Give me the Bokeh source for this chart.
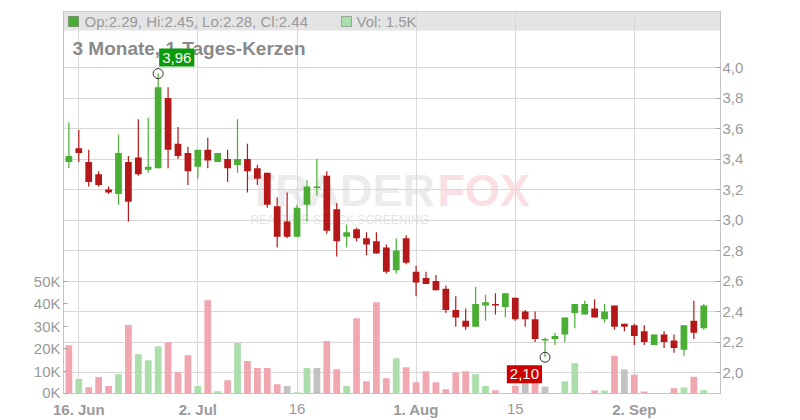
import numpy as np
import pandas as pd
from bokeh.plotting import figure
from bokeh.layouts import column
from bokeh.models import (Range1d, LinearAxis, FixedTicker, Label, BoxAnnotation,
                          ColumnDataSource, Grid)
from bokeh.core.properties import value
from bokeh.embed import file_html
from bokeh.resources import INLINE

# ---------------- data ----------------
dates = pd.bdate_range("2025-06-13", "2025-09-11")

opens = [3.38, 3.47, 3.38, 3.30, 3.20, 3.17, 3.38, 3.41, 3.33, 3.34,
         3.80, 3.50, 3.44, 3.35, 3.46, 3.38, 3.40, 3.36, 3.40, 3.34,
         3.31, 3.09, 2.99, 2.89, 3.10, 3.21, 3.29, 3.07, 2.89, 2.94,
         2.88, 2.86, 2.82, 2.67, 2.88, 2.66, 2.62, 2.60, 2.55, 2.41,
         2.34, 2.30, 2.44, 2.45, 2.43, 2.49, 2.40, 2.35, 2.21, 2.22,
         2.25, 2.39, 2.38, 2.42, 2.35, 2.44, 2.32, 2.31, 2.27, 2.18,
         2.25, 2.21, 2.15, 2.34, 2.29]
highs = [3.64, 3.59, 3.46, 3.32, 3.22, 3.56, 3.42, 3.66, 3.67, 3.96,
         3.87, 3.61, 3.48, 3.46, 3.54, 3.44, 3.46, 3.66, 3.50, 3.36,
         3.31, 3.15, 3.18, 3.10, 3.26, 3.40, 3.32, 3.11, 2.97, 2.95,
         2.92, 2.92, 2.84, 2.88, 2.90, 2.70, 2.66, 2.64, 2.57, 2.50,
         2.42, 2.56, 2.51, 2.52, 2.52, 2.49, 2.41, 2.40, 2.23, 2.26,
         2.36, 2.45, 2.47, 2.48, 2.45, 2.44, 2.32, 2.32, 2.31, 2.25,
         2.27, 2.25, 2.31, 2.47, 2.45]
lows = [3.34, 3.38, 3.22, 3.22, 3.17, 3.10, 2.99, 3.29, 3.31, 3.34,
        3.34, 3.40, 3.23, 3.27, 3.34, 3.38, 3.25, 3.31, 3.18, 3.23,
        3.08, 2.82, 2.88, 2.89, 2.99, 3.16, 2.91, 2.76, 2.82, 2.86,
        2.77, 2.78, 2.65, 2.65, 2.71, 2.50, 2.58, 2.54, 2.39, 2.30,
        2.28, 2.30, 2.34, 2.38, 2.36, 2.34, 2.30, 2.20, 2.10, 2.18,
        2.20, 2.29, 2.38, 2.36, 2.33, 2.28, 2.27, 2.18, 2.18, 2.18,
        2.16, 2.13, 2.11, 2.22, 2.28]
closes = [3.42, 3.44, 3.25, 3.23, 3.18, 3.44, 3.12, 3.30, 3.35, 3.87,
          3.46, 3.42, 3.32, 3.46, 3.39, 3.44, 3.34, 3.40, 3.32, 3.27,
          3.10, 2.89, 2.89, 3.08, 3.22, 3.22, 2.93, 2.86, 2.92, 2.88,
          2.84, 2.78, 2.66, 2.80, 2.72, 2.59, 2.58, 2.54, 2.41, 2.36,
          2.30, 2.45, 2.46, 2.44, 2.52, 2.35, 2.35, 2.22, 2.22, 2.24,
          2.36, 2.45, 2.45, 2.36, 2.40, 2.30, 2.30, 2.24, 2.20, 2.25,
          2.20, 2.16, 2.31, 2.26, 2.44]
volumes_k = [21.5, 6.4, 2.8, 7.3, 3.3, 8.6, 30.4, 17.5, 14.8, 21.0,
             22.8, 9.5, 17.0, 3.3, 41.5, 1.0, 5.9, 22.4, 14.4, 11.3,
             11.3, 4.1, 3.3, 0.6, 11.3, 11.3, 23.3, 10.8, 3.3, 33.5,
             5.5, 40.6, 6.8, 15.7, 11.7, 5.0, 9.9, 5.0, 1.9, 9.5,
             9.9, 8.6, 3.3, 1.5, 0.0, 3.5, 5.0, 5.0, 3.1, 0.0,
             5.4, 13.4, 0.0, 1.3, 1.3, 16.8, 10.7, 8.4, 0.9, 0.0,
             0.0, 2.3, 2.7, 7.5, 1.5]
# 1 = higher close than the day before, -1 = lower, 0 = unchanged
vol_dir = [-1, 1, -1, -1, -1, 1, -1, 1, 1, 1,
           -1, -1, -1, 1, -1, 1, -1, 1, -1, -1,
           -1, -1, 0, 1, 1, 0, -1, -1, 1, -1,
           -1, -1, -1, 1, -1, -1, -1, -1, -1, -1,
           -1, 1, 1, -1, 0, -1, 0, -1, 0, 1,
           1, 1, 1, -1, 1, -1, 0, -1, -1, 1,
           -1, -1, 1, -1, 1]

tick_dates = ["2025-06-16", "2025-07-02", "2025-07-16", "2025-08-01", "2025-08-15", "2025-09-02"]
tick_labels = ["16. Jun", "2. Jul", "16", "1. Aug", "15", "2. Sep"]
tick_bold = [True, True, False, True, False, True]

price_ticks = [2.0, 2.2, 2.4, 2.6, 2.8, 3.0, 3.2, 3.4, 3.6, 3.8, 4.0]
price_labels = ["2,0", "2,2", "2,4", "2,6", "2,8", "3,0", "3,2", "3,4", "3,6", "3,8", "4,0"]
vol_ticks = [0, 10000, 20000, 30000, 40000, 50000]
vol_labels = ["0K", "10K", "20K", "30K", "40K", "50K"]

title_text = "3 Monate, 1-Tages-Kerzen"

# ---------------- layout helpers (page pixels -> data) ----------------
X0, DX = 68.38, 9.92          # page x of first candle, px per trading day
Y2, PY = 372.0, 152.5         # page y of price 2.0, px per 1.0 price
VOLPX = 22.5 / 10000.0        # px per share of volume

def xi(px):
    return (px - X0) / DX

def yp(py):
    return 2.0 + (Y2 - py) / PY

FL, FR, FT, FB = 63, 720, 11, 393
W = 792
H1 = 400            # main canvas height
H2 = 20             # date-label strip height

FONT = "Liberation Sans"
GRAY = "#9a9a9a"
EDGE = "#c4c4c4"
UP, DOWN = "#4aae34", "#b51818"
VCOL = {1: "#abdeab", -1: "#f1a7b0", 0: "#c2c2c2"}

x = np.arange(len(dates))
o = np.array(opens); h = np.array(highs); l = np.array(lows); c = np.array(closes)
vol = np.array(volumes_k) * 1000.0
up = c >= o
ccol = [UP if u else DOWN for u in up]
vcol = [VCOL[d] for d in vol_dir]
date_index = {d.strftime("%Y-%m-%d"): i for i, d in enumerate(dates)}
tick_idx = [date_index[d] for d in tick_dates]


def make_label(**kw):
    pad = kw.pop("pad")
    try:
        return Label(padding=pad, **kw)
    except Exception:
        return Label(padding=3, **kw)


# ---------------- main chart ----------------
p = figure(width=W, height=H1, output_backend="svg", toolbar_location=None,
           x_range=Range1d(xi(FL), xi(FR)), y_range=Range1d(yp(FB), yp(FT)),
           y_axis_location="right", x_axis_location=None,
           min_border_left=FL, min_border_right=W - FR,
           min_border_top=FT, min_border_bottom=H1 - FB)
p.extra_y_ranges = {"vol": Range1d(0, (FB - FT) / VOLPX)}
p.background_fill_color = "white"
p.border_fill_color = "white"
p.outline_line_color = EDGE
p.outline_line_width = 1
for g in p.xgrid:
    g.visible = False

# header band (under the grid)
band = BoxAnnotation(bottom=yp(30), fill_color="#e4e4e4", fill_alpha=1.0,
                     line_alpha=0, level="underlay")
p.renderers.append(band)

# watermark
for txt, px, col in [("TRADER", 247, "#dcdcdc"), ("FOX", 437, "#f7c6cc")]:
    p.renderers.append(Label(x=xi(px), y=yp(190), text=txt, text_font=FONT,
                             text_font_style="bold", text_font_size="45px", text_color=col,
                             text_alpha=0.55, text_baseline="middle", level="underlay"))
p.renderers.append(Label(x=xi(250), y=yp(219), text="REALTIME STOCK SCREENING", text_font=FONT,
                         text_font_size="12px", text_color="#d4d4d4", text_alpha=0.6,
                         text_baseline="middle", level="underlay"))

# grids
p.add_layout(Grid(dimension=0, ticker=FixedTicker(ticks=tick_idx),
                  grid_line_color="#d9d9d9"), "center")
p.ygrid.ticker = FixedTicker(ticks=price_ticks)
p.ygrid.grid_line_color = "#d9d9d9"

# price axis (right)
pa = p.yaxis[0]
pa.ticker = FixedTicker(ticks=price_ticks)
pa.major_label_overrides = {t: s for t, s in zip(price_ticks, price_labels)}
pa.axis_line_color = EDGE
pa.major_tick_in = 5
pa.major_tick_out = 0
pa.major_tick_line_color = "#a8a8a8"
pa.minor_tick_line_color = None
pa.major_label_standoff = 2
pa.major_label_text_font = FONT
pa.major_label_text_font_size = "15px"
pa.major_label_text_color = GRAY

# volume axis (left)
va = LinearAxis(y_range_name="vol", ticker=FixedTicker(ticks=vol_ticks))
va.major_label_overrides = {t: s for t, s in zip(vol_ticks, vol_labels)}
va.axis_line_color = EDGE
va.major_tick_in = 4
va.major_tick_out = 0
va.major_tick_line_color = "#a8a8a8"
va.minor_tick_line_color = None
va.major_label_standoff = 3
va.major_label_text_font = FONT
va.major_label_text_font_size = "15px"
va.major_label_text_color = GRAY
p.add_layout(va, "left")

# volume bars
p.vbar(x=x, width=0.68, top=vol, bottom=0, y_range_name="vol",
       fill_color=vcol, line_color=None)

# candles
p.segment(x0=x, y0=h, x1=x, y1=l, line_color=ccol, line_width=1.2)
p.vbar(x=x, width=0.68, top=np.maximum(o, c), bottom=np.minimum(o, c),
       fill_color=ccol, line_color=None)

# header legend
p.add_layout(BoxAnnotation(left=xi(68), right=xi(78), top=yp(16), bottom=yp(26),
                           fill_color=UP, fill_alpha=1, line_color="#222222", line_width=1))
p.add_layout(BoxAnnotation(left=xi(341), right=xi(351), top=yp(16), bottom=yp(26),
                           fill_color=VCOL[1], fill_alpha=1, line_color="#222222", line_width=1))
hdr = f"Op:{o[-1]:.2f}, Hi:{h[-1]:.2f}, Lo:{l[-1]:.2f}, Cl:{c[-1]:.2f}"
p.add_layout(Label(x=xi(84), y=yp(21), text=hdr, text_baseline="middle",
                   text_font=FONT, text_font_size="15px", text_color=GRAY))
p.add_layout(Label(x=xi(356), y=yp(21), text=f"Vol: {volumes_k[-1]:.1f}K", text_baseline="middle",
                   text_font=FONT, text_font_size="15px", text_color=GRAY))

# title
p.add_layout(Label(x=xi(72), y=yp(47.5), text=title_text, text_baseline="middle",
                   text_font=FONT, text_font_size="19px", text_font_style="bold",
                   text_color="#8a8a8a"))

# max / min markers
imax = int(np.argmax(h)); imin = int(np.argmin(l))
p.scatter(x=[imax, imin], y=[h[imax], l[imin]], marker="circle", size=10,
          fill_color="white", fill_alpha=0.0, line_color="#333333", line_width=1)
box_pad = dict(left=3, right=3, top=4, bottom=4)
p.add_layout(make_label(x=imax, y=h[imax], x_offset=1, y_offset=7,
                        text=f"{h[imax]:.2f}".replace(".", ","),
                        text_align="left", text_baseline="bottom", text_font=FONT,
                        text_font_size="15px", text_color="white",
                        background_fill_color="#0a9a0a", pad=box_pad))
p.add_layout(make_label(x=imin, y=l[imin], x_offset=-3, y_offset=-8,
                        text=f"{l[imin]:.2f}".replace(".", ","),
                        text_align="right", text_baseline="top", text_font=FONT,
                        text_font_size="15px", text_color="white",
                        background_fill_color="#cc0000", pad=box_pad))

# ---------------- date label strip ----------------
q = figure(width=W, height=H2, output_backend="svg", toolbar_location=None,
           x_range=Range1d(xi(0), xi(W)), y_range=Range1d(H2, 0),
           x_axis_location=None, y_axis_location=None,
           min_border_left=0, min_border_right=0, min_border_top=0, min_border_bottom=0)
q.outline_line_color = None
q.grid.visible = False
q.background_fill_color = "white"
q.border_fill_color = "white"
src = ColumnDataSource(dict(x=tick_idx, label=tick_labels,
                            style=["bold" if b else "normal" for b in tick_bold]))
q.text(x="x", y=408.5 - H1, text="label", source=src, text_align="center",
       text_baseline="middle", text_font=value(FONT), text_font_size="15px",
       text_font_style="style", text_color=GRAY)

for fig in (p, q):
    if "frame_align" in fig.properties():
        fig.frame_align = False

layout = column(p, q, spacing=0)
open("out.html", "w").write(file_html(layout, INLINE))
